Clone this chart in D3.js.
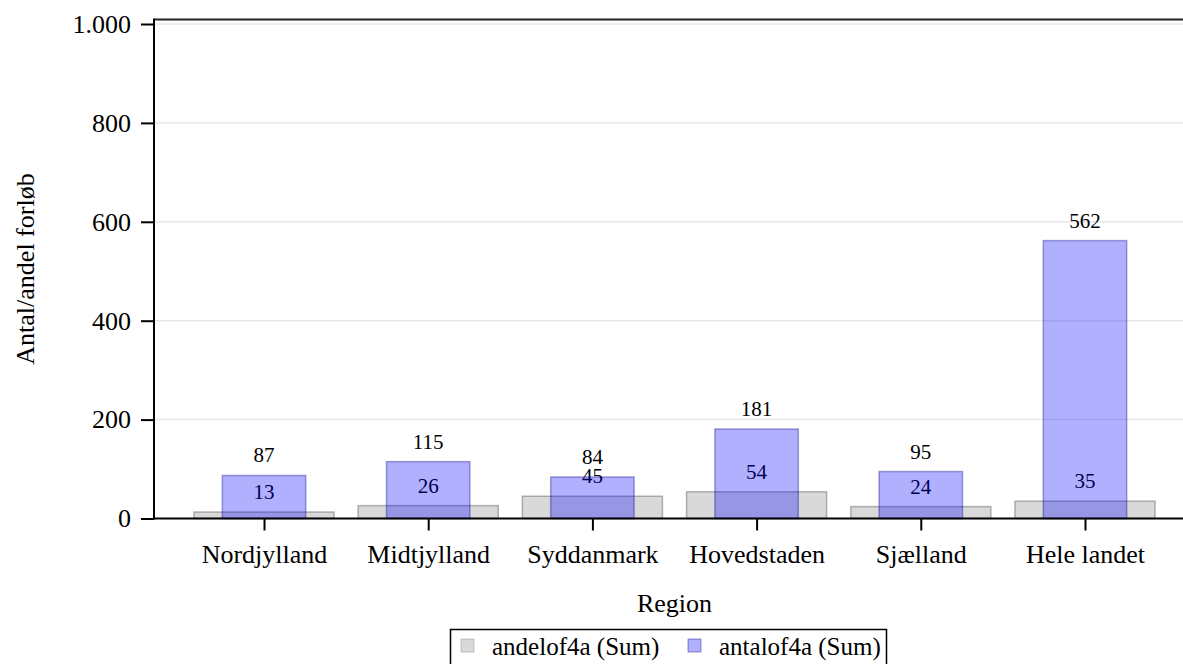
<!DOCTYPE html>
<html>
<head>
<meta charset="utf-8">
<script src="https://cdn.jsdelivr.net/npm/d3@7"></script>
</head>
<body style="margin:0">
<div id="chart"></div>
<script>
(function() {
"use strict";

const regions = ["Nordjylland", "Midtjylland", "Syddanmark", "Hovedstaden", "Sjælland", "Hele landet"];
const antal = [87, 115, 84, 181, 95, 562];
const andel = [13, 26, 45, 54, 24, 35];
const yTicks = [0, 200, 400, 600, 800, 1000];

const FONT = "Liberation Serif";
const WIDTH = 1183;
const HEIGHT = 664;
const LEFT = 154;
const RIGHT = 1195;
const TOP = 19.5;
const BOTTOM = 518.5;

const dk = d3.formatLocale({ decimal: ",", thousands: ".", grouping: [3], currency: ["", " kr."] });

const SVG = d3.select("#chart")
              .append("svg")
              .attr("width", WIDTH)
              .attr("height", HEIGHT)
              .style("display", "block");

const data = regions.map((r, i) => ({ region: r, antal: antal[i], andel: andel[i] }));

const xScale = d3.scalePoint()
                .domain(regions)
                .range([LEFT, RIGHT])
                .padding(0.67);

const yScale = d3.scaleLinear()
                .domain([0, 1000])
                .range([BOTTOM, 24]);

const step = xScale.step();
const wideW = step * 0.853;
const narrowW = step * 0.508;

// grid
SVG.append("g")
  .selectAll("line")
  .data(yTicks.filter(d => d > 0))
  .enter()
  .append("line")
    .attr("x1", LEFT).attr("x2", RIGHT)
    .attr("y1", d => yScale(d)).attr("y2", d => yScale(d))
    .attr("stroke", "#e8e8e8")
    .attr("stroke-width", 1.5);

// andel bars (grey, wide)
SVG.append("g")
  .selectAll("rect")
  .data(data)
  .enter()
  .append("rect")
    .attr("x", d => xScale(d.region) - wideW / 2)
    .attr("y", d => yScale(d.andel))
    .attr("width", wideW)
    .attr("height", d => yScale(0) - yScale(d.andel))
    .attr("fill", "rgb(128,128,128)")
    .attr("fill-opacity", 0.3)
    .attr("stroke", "rgb(128,128,128)")
    .attr("stroke-opacity", 0.6)
    .attr("stroke-width", 1.5);

SVG.append("g")
  .selectAll("text")
  .data(data)
  .enter()
  .append("text")
    .attr("x", d => xScale(d.region))
    .attr("y", d => yScale(d.andel) - 13)
    .attr("text-anchor", "middle")
    .attr("font-family", FONT)
    .attr("font-size", 21)
    .attr("fill", "#000")
    .text(d => d.andel);

// antal bars (blue, narrow) drawn over the grey labels
SVG.append("g")
  .selectAll("rect")
  .data(data)
  .enter()
  .append("rect")
    .attr("x", d => xScale(d.region) - narrowW / 2)
    .attr("y", d => yScale(d.antal))
    .attr("width", narrowW)
    .attr("height", d => yScale(0) - yScale(d.antal))
    .attr("fill", "rgb(0,0,255)")
    .attr("fill-opacity", 0.31)
    .attr("stroke", "rgb(0,0,128)")
    .attr("stroke-opacity", 0.35)
    .attr("stroke-width", 1.5);

SVG.append("g")
  .selectAll("text")
  .data(data)
  .enter()
  .append("text")
    .attr("x", d => xScale(d.region))
    .attr("y", d => yScale(d.antal) - 13)
    .attr("text-anchor", "middle")
    .attr("font-family", FONT)
    .attr("font-size", 21)
    .attr("fill", "#000")
    .text(d => d.antal);

// frame top
SVG.append("line")
  .attr("x1", LEFT).attr("x2", RIGHT)
  .attr("y1", TOP).attr("y2", TOP)
  .attr("stroke", "#222")
  .attr("stroke-width", 2);

// axes
const yAxis = d3.axisLeft(yScale)
                .tickValues(yTicks)
                .tickSize(13)
                .tickPadding(10)
                .tickFormat(dk.format(",d"));

const gy = SVG.append("g")
  .attr("id", "y-axis")
  .attr("transform", `translate(${LEFT}, 0)`)
  .call(yAxis)
  .attr("font-family", FONT)
  .attr("font-size", 26);
gy.select(".domain").remove();
gy.append("line")
  .attr("x1", 0).attr("x2", 0)
  .attr("y1", TOP - 1).attr("y2", BOTTOM + 1)
  .attr("stroke", "#000").attr("stroke-width", 2);

const xAxis = d3.axisBottom(xScale)
                .tickSize(12)
                .tickPadding(14);

const gx = SVG.append("g")
  .attr("id", "x-axis")
  .attr("transform", `translate(0, ${BOTTOM})`)
  .call(xAxis)
  .attr("font-family", FONT)
  .attr("font-size", 26);
gx.select(".domain").remove();
gx.append("line")
  .attr("x1", LEFT - 1).attr("x2", RIGHT)
  .attr("y1", 0).attr("y2", 0)
  .attr("stroke", "#000").attr("stroke-width", 2);

SVG.selectAll(".tick line").attr("stroke", "#000").attr("stroke-width", 2);
SVG.selectAll(".tick text").attr("fill", "#000");

// axis titles
SVG.append("text")
  .attr("transform", `translate(34, ${(TOP + BOTTOM) / 2}) rotate(-90)`)
  .attr("text-anchor", "middle")
  .attr("font-family", FONT)
  .attr("font-size", 26)
  .text("Antal/andel forløb");

SVG.append("text")
  .attr("x", (LEFT + RIGHT) / 2)
  .attr("y", 612)
  .attr("text-anchor", "middle")
  .attr("font-family", FONT)
  .attr("font-size", 26)
  .text("Region");

// legend
const legend = SVG.append("g");
legend.append("rect")
  .attr("x", 450.5).attr("y", 629.5)
  .attr("width", 436).attr("height", 44)
  .attr("fill", "none")
  .attr("stroke", "#000")
  .attr("stroke-width", 1.5);

const legendItems = [
  { label: "andelof4a (Sum)", fill: "rgb(128,128,128)", op: 0.3, stroke: "rgb(128,128,128)", x: 461 },
  { label: "antalof4a (Sum)", fill: "rgb(0,0,255)", op: 0.31, stroke: "rgb(0,0,128)", x: 688 }
];

const li = legend.selectAll("g.item")
  .data(legendItems)
  .enter()
  .append("g")
    .attr("class", "item");

li.append("rect")
  .attr("x", d => d.x).attr("y", 639)
  .attr("width", 13).attr("height", 13)
  .attr("fill", d => d.fill)
  .attr("fill-opacity", d => d.op)
  .attr("stroke", d => d.stroke)
  .attr("stroke-opacity", 0.4);

li.append("text")
  .attr("x", d => d.x + 31)
  .attr("y", 655)
  .attr("font-family", FONT)
  .attr("font-size", 25)
  .text(d => d.label);

})();
</script>
</body>
</html>
